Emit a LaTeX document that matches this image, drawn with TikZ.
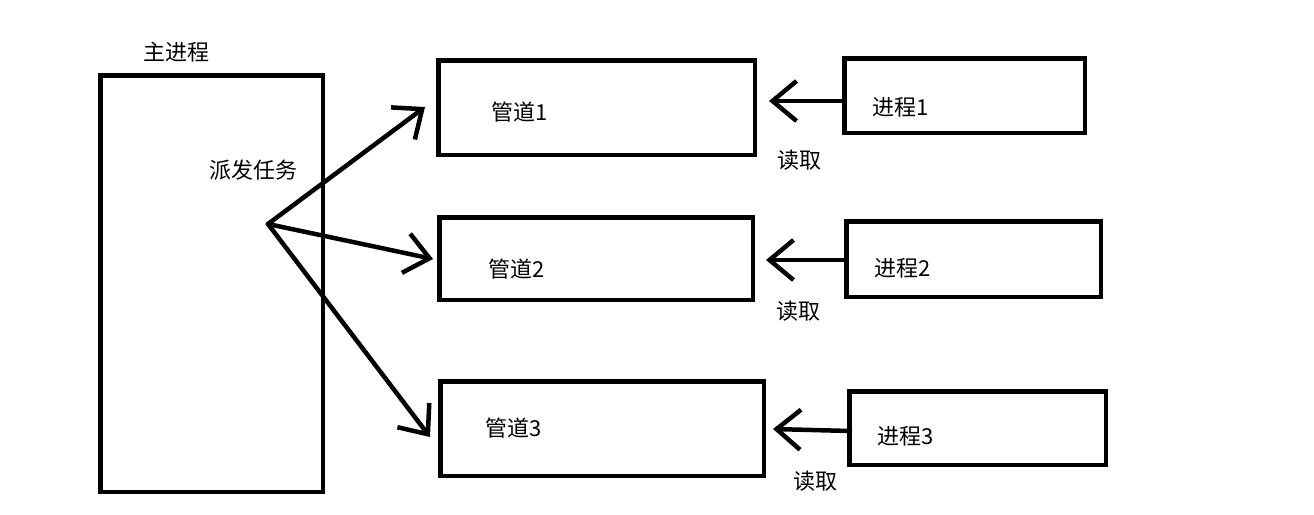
\documentclass[tikz,border=0pt]{standalone}
\usepackage{fontspec}
\setmainfont{Noto Sans CJK SC}
\usetikzlibrary{arrows.meta}

\begin{document}
\begin{tikzpicture}[x=1pt,y=-1pt,
    box/.style={draw,line width=4.5pt,inner sep=0pt},
    lbl/.style={font=\fontsize{22}{26}\selectfont,inner sep=0pt},
    arr/.style={line width=4.5pt,line cap=round,
      -{Straight Barb[length=24pt,width=40pt]}}]

  \useasboundingbox (0,0) rectangle (1314,514);

  % --- main process ---
  \node[box,minimum width=222.5pt,minimum height=416.5pt] (main) at (211.5,283.5) {};
  \node[lbl] (mainlbl) at (176.5,52.5) {主进程};
  \node[lbl] (dispatch) at (253,170) {派发任务};
  \coordinate (hub) at (268,224);

  % --- pipes ---
  \foreach \i/\cx/\cy/\w/\h/\tx/\ty in {
      1/596.5/107.5/316.5/94.5/520/112,
      2/596/258.5/313.5/82.5/517/269,
      3/602/428.5/323.5/94.5/514/428} {
    \node[box,minimum width=\w pt,minimum height=\h pt] (pipe\i) at (\cx,\cy) {};
    \node[lbl] (pipelbl\i) at (\tx,\ty) {管道\i};
  }

  % --- worker processes ---
  \foreach \i/\cx/\cy/\w/\h/\tx/\ty in {
      1/964.5/95.5/240.5/74.5/901/107.5,
      2/973.5/259/254.5/75.5/903/268,
      3/977.5/428/256.5/73.5/906/436} {
    \node[box,minimum width=\w pt,minimum height=\h pt] (proc\i) at (\cx,\cy) {};
    \node[lbl] (proclbl\i) at (\tx,\ty) {进程\i};
  }

  % --- dispatch arrows ---
  \coordinate (tip1) at (425,107);
  \coordinate (tip2) at (433,259);
  \coordinate (tip3) at (430,437);
  \foreach \i in {1,2,3} \draw[arr] (hub) -- (tip\i);

  % --- read arrows ---
  \foreach \i/\sx/\sy/\ex/\ey/\rx/\ry in {
      1/843/101/769/101/799/160,
      2/843/260/766/260/798/311,
      3/850/431/773/429/815/481} {
    \coordinate (src\i) at (\sx,\sy);
    \coordinate (dst\i) at (\ex,\ey);
    \draw[arr] (src\i) -- (dst\i);
    \node[lbl] (read\i) at (\rx,\ry) {读取};
  }

\end{tikzpicture}
\end{document}
